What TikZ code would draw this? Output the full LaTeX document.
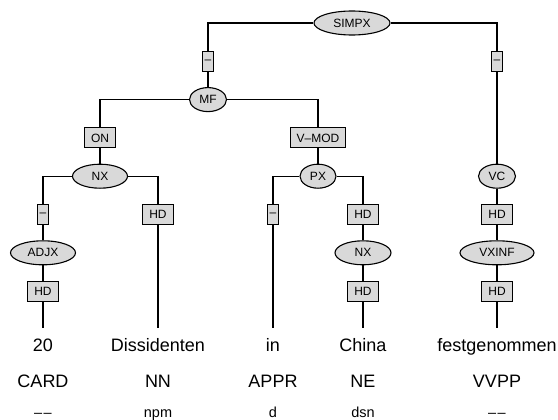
\documentclass[tikz,border=0pt]{standalone}
\usepackage{fontspec}
\setmainfont{Liberation Sans}
\usepackage{xcolor}
\usepackage{tikz}
\usetikzlibrary{positioning, shapes.geometric}

\definecolor{nodegray}{gray}{0.85}
\newcommand{\nomorph}{\textendash\kern1.5pt\textendash}

\begin{document}
\begin{tikzpicture}[
    x=1pt, y=-1pt,
    node distance=38.3pt and 0pt, on grid,
    cat/.style={draw, ellipse, fill=nodegray, line width=1.1pt, minimum height=24pt, inner sep=1pt, font=\fontsize{12}{14}\selectfont},
    fn/.style={draw, rectangle, fill=nodegray, line width=1.1pt, minimum height=20pt, inner xsep=6.5pt, inner ysep=0pt, font=\fontsize{12}{14}\selectfont},
    dashbox/.style={fn, inner xsep=2pt},
    word/.style={anchor=base, text height=13pt, text depth=4pt, inner ysep=10pt, font=\fontsize{18}{20}\selectfont},
    tagtext/.style={anchor=base, font=\fontsize{18}{20}\selectfont},
    morph/.style={anchor=base, font=\fontsize{14.5}{16}\selectfont},
    link/.style={line width=1.1pt}
]
\useasboundingbox (0,0) rectangle (558,420);

% Nodes
\node[cat, minimum width=76pt] (simpx) at (352,23) {SIMPX};
\node[dashbox, below left=38.3pt and 144pt of simpx] (fl) {\textendash};
\node[dashbox, below right=38.3pt and 145pt of simpx] (fr) {\textendash};
\node[cat, minimum width=37pt, below=of fl] (mf) {MF};

\node[fn, below left=38.3pt and 108pt of mf] (on) {ON};
\node[fn, below right=38.3pt and 110pt of mf] (vmod) {V\textendash MOD};
\node[cat, minimum width=55pt, below=of on] (nx1) {NX};
\node[cat, minimum width=36pt, below=of vmod] (px) {PX};
\node[cat, minimum width=37pt, below=114.9pt of fr] (vc) {VC};

\node[dashbox, below left=38.3pt and 57pt of nx1] (f1) {\textendash};
\node[fn, below right=38.3pt and 58pt of nx1] (h2) {HD};
\node[dashbox, below left=38.3pt and 45pt of px] (f3) {\textendash};
\node[fn, below right=38.3pt and 45pt of px] (h4) {HD};
\node[fn, below=of vc] (h6) {HD};

\node[cat, minimum width=65pt, below=of f1] (adjx) {ADJX};
\node[cat, minimum width=56pt, below=of h4] (nx2) {NX};
\node[cat, minimum width=74pt, below=of h6] (vxinf) {VXINF};

\node[fn, below=of adjx] (h1) {HD};
\node[fn, below=of nx2] (h5) {HD};
\node[fn, below=of vxinf] (h7) {HD};

% Terminals
\node[word] (w1) at (43,351) {20};
\node[word] (w2) at (158,351) {Dissidenten};
\node[word] (w3) at (273,351) {in};
\node[word] (w4) at (363,351) {China};
\node[word] (w5) at (497,351) {festgenommen};

\node[tagtext] (p1) at (43,387) {CARD};
\node[tagtext] (p2) at (158,387) {NN};
\node[tagtext] (p3) at (273,387) {APPR};
\node[tagtext] (p4) at (363,387) {NE};
\node[tagtext] (p5) at (497,387) {VVPP};

\node[morph] (m1) at (43,417) {\nomorph};
\node[morph] (m2) at (158,417) {npm};
\node[morph] (m3) at (273,417) {d};
\node[morph] (m4) at (363,417) {dsn};
\node[morph] (m5) at (497,417) {\nomorph};

% Edges
\draw[link] (simpx) -| (fl);
\draw[link] (fl) -- (mf);
\draw[link] (simpx) -| (fr);
\draw[link] (fr) -- (vc);
\draw[link] (mf) -| (on);
\draw[link] (on) -- (nx1);
\draw[link] (mf) -| (vmod);
\draw[link] (vmod) -- (px);
\draw[link] (nx1) -| (f1);
\draw[link] (f1) -- (adjx);
\draw[link] (adjx) -- (h1);
\draw[link] (h1) -- (w1);
\draw[link] (nx1) -| (h2);
\draw[link] (h2) -- (w2);
\draw[link] (px) -| (f3);
\draw[link] (f3) -- (w3);
\draw[link] (px) -| (h4);
\draw[link] (h4) -- (nx2);
\draw[link] (nx2) -- (h5);
\draw[link] (h5) -- (w4);
\draw[link] (vc) -- (h6);
\draw[link] (h6) -- (vxinf);
\draw[link] (vxinf) -- (h7);
\draw[link] (h7) -- (w5);

\end{tikzpicture}
\end{document}
